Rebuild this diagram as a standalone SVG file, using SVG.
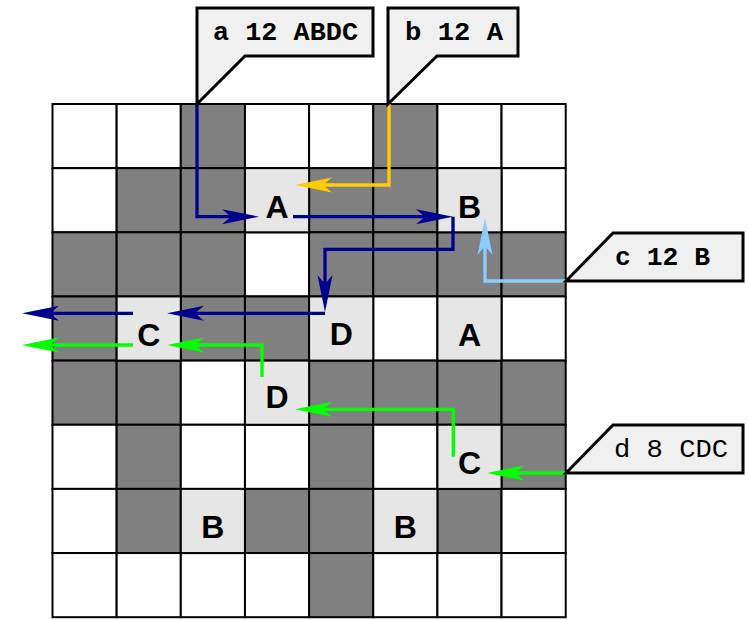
<svg xmlns="http://www.w3.org/2000/svg" width="749" height="620" viewBox="0 0 749 620">
<style>
.w{fill:#ffffff;stroke:#000;stroke-width:2}
.g{fill:#808080;stroke:#000;stroke-width:2}
.l{fill:#e6e6e6;stroke:#000;stroke-width:2}
.lt{font-family:"Liberation Sans",Arial,sans-serif;font-weight:bold;font-size:32px;text-anchor:middle;fill:#000}
.co{fill:#f0f0f0;stroke:#000;stroke-width:3;stroke-linejoin:miter}
.ct{font-family:"Liberation Mono","Courier New",monospace;font-weight:bold;font-size:26px;fill:#000}
.cn{font-weight:normal}
.c{fill:none;stroke-width:3.3;stroke-linejoin:miter}
.navy{stroke:#00008f}
.gold{stroke:#ffcc00}
.sky{stroke:#87cefa}
.lime{stroke:#00ff00}
</style>
<defs>
<marker id="mNavy" markerUnits="userSpaceOnUse" orient="auto" refX="0" refY="0" markerWidth="10" markerHeight="10" overflow="visible"><path d="M15,0 L-22,-7.5 L-13,0 L-22,7.5 Z" fill="#00008f"/></marker>
<marker id="mGold" markerUnits="userSpaceOnUse" orient="auto" refX="0" refY="0" markerWidth="10" markerHeight="10" overflow="visible"><path d="M15,0 L-22,-7.5 L-13,0 L-22,7.5 Z" fill="#ffcc00"/></marker>
<marker id="mSky" markerUnits="userSpaceOnUse" orient="auto" refX="0" refY="0" markerWidth="10" markerHeight="10" overflow="visible"><path d="M15,0 L-22,-7.5 L-13,0 L-22,7.5 Z" fill="#87cefa"/></marker>
<marker id="mLime" markerUnits="userSpaceOnUse" orient="auto" refX="0" refY="0" markerWidth="10" markerHeight="10" overflow="visible"><path d="M15,0 L-22,-7.5 L-13,0 L-22,7.5 Z" fill="#00ff00"/></marker>
</defs>
<rect x="0" y="0" width="749" height="620" fill="#ffffff"/>
<g id="grid">
<!-- row 0 -->
<rect class="w" x="52.5" y="104" width="64.15" height="64.15"/>
<rect class="w" x="116.65" y="104" width="64.15" height="64.15"/>
<rect class="g" x="180.8" y="104" width="64.15" height="64.15"/>
<rect class="w" x="244.95" y="104" width="64.15" height="64.15"/>
<rect class="w" x="309.1" y="104" width="64.15" height="64.15"/>
<rect class="g" x="373.25" y="104" width="64.15" height="64.15"/>
<rect class="w" x="437.4" y="104" width="64.15" height="64.15"/>
<rect class="w" x="501.55" y="104" width="64.15" height="64.15"/>
<!-- row 1 -->
<rect class="w" x="52.5" y="168.15" width="64.15" height="64.15"/>
<rect class="g" x="116.65" y="168.15" width="64.15" height="64.15"/>
<rect class="g" x="180.8" y="168.15" width="64.15" height="64.15"/>
<rect class="g" x="309.1" y="168.15" width="64.15" height="64.15"/>
<rect class="g" x="373.25" y="168.15" width="64.15" height="64.15"/>
<rect class="w" x="501.55" y="168.15" width="64.15" height="64.15"/>
<!-- row 2 -->
<rect class="g" x="52.5" y="232.3" width="64.15" height="64.15"/>
<rect class="g" x="116.65" y="232.3" width="64.15" height="64.15"/>
<rect class="g" x="180.8" y="232.3" width="64.15" height="64.15"/>
<rect class="w" x="244.95" y="232.3" width="64.15" height="64.15"/>
<rect class="g" x="309.1" y="232.3" width="64.15" height="64.15"/>
<rect class="g" x="373.25" y="232.3" width="64.15" height="64.15"/>
<rect class="g" x="437.4" y="232.3" width="64.15" height="64.15"/>
<rect class="g" x="501.55" y="232.3" width="64.15" height="64.15"/>
<!-- row 3 -->
<rect class="g" x="52.5" y="296.45" width="64.15" height="64.15"/>
<rect class="g" x="180.8" y="296.45" width="64.15" height="64.15"/>
<rect class="g" x="244.95" y="296.45" width="64.15" height="64.15"/>
<rect class="w" x="373.25" y="296.45" width="64.15" height="64.15"/>
<rect class="w" x="501.55" y="296.45" width="64.15" height="64.15"/>
<!-- row 4 -->
<rect class="g" x="52.5" y="360.6" width="64.15" height="64.15"/>
<rect class="g" x="116.65" y="360.6" width="64.15" height="64.15"/>
<rect class="w" x="180.8" y="360.6" width="64.15" height="64.15"/>
<rect class="g" x="309.1" y="360.6" width="64.15" height="64.15"/>
<rect class="g" x="373.25" y="360.6" width="64.15" height="64.15"/>
<rect class="g" x="437.4" y="360.6" width="64.15" height="64.15"/>
<rect class="g" x="501.55" y="360.6" width="64.15" height="64.15"/>
<!-- row 5 -->
<rect class="w" x="52.5" y="424.75" width="64.15" height="64.15"/>
<rect class="g" x="116.65" y="424.75" width="64.15" height="64.15"/>
<rect class="w" x="180.8" y="424.75" width="64.15" height="64.15"/>
<rect class="w" x="244.95" y="424.75" width="64.15" height="64.15"/>
<rect class="g" x="309.1" y="424.75" width="64.15" height="64.15"/>
<rect class="w" x="373.25" y="424.75" width="64.15" height="64.15"/>
<rect class="g" x="501.55" y="424.75" width="64.15" height="64.15"/>
<!-- row 6 -->
<rect class="w" x="52.5" y="488.9" width="64.15" height="64.15"/>
<rect class="g" x="116.65" y="488.9" width="64.15" height="64.15"/>
<rect class="g" x="244.95" y="488.9" width="64.15" height="64.15"/>
<rect class="g" x="309.1" y="488.9" width="64.15" height="64.15"/>
<rect class="g" x="437.4" y="488.9" width="64.15" height="64.15"/>
<rect class="w" x="501.55" y="488.9" width="64.15" height="64.15"/>
<!-- row 7 -->
<rect class="w" x="52.5" y="553.05" width="64.15" height="64.15"/>
<rect class="w" x="116.65" y="553.05" width="64.15" height="64.15"/>
<rect class="w" x="180.8" y="553.05" width="64.15" height="64.15"/>
<rect class="w" x="244.95" y="553.05" width="64.15" height="64.15"/>
<rect class="g" x="309.1" y="553.05" width="64.15" height="64.15"/>
<rect class="w" x="373.25" y="553.05" width="64.15" height="64.15"/>
<rect class="w" x="437.4" y="553.05" width="64.15" height="64.15"/>
<rect class="w" x="501.55" y="553.05" width="64.15" height="64.15"/>
</g>
<g id="cell-A1"><rect class="l" x="244.95" y="168.15" width="64.15" height="64.15"/><text class="lt" x="277" y="217.5">A</text></g>
<g id="cell-B1"><rect class="l" x="437.4" y="168.15" width="64.15" height="64.15"/><text class="lt" x="469.5" y="217.5">B</text></g>
<g id="cell-C1"><rect class="l" x="116.65" y="296.45" width="64.15" height="64.15"/><text class="lt" x="148.7" y="345.5">C</text></g>
<g id="cell-D1"><rect class="l" x="309.1" y="296.45" width="64.15" height="64.15"/><text class="lt" x="341.2" y="344.5">D</text></g>
<g id="cell-A2"><rect class="l" x="437.4" y="296.45" width="64.15" height="64.15"/><text class="lt" x="469.5" y="345.5">A</text></g>
<g id="cell-D2"><rect class="l" x="244.95" y="360.6" width="64.15" height="64.15"/><text class="lt" x="277" y="408">D</text></g>
<g id="cell-C2"><rect class="l" x="437.4" y="424.75" width="64.15" height="64.15"/><text class="lt" x="469.5" y="473.5">C</text></g>
<g id="cell-B2"><rect class="l" x="180.8" y="488.9" width="64.15" height="64.15"/><text class="lt" x="212.9" y="537.5">B</text></g>
<g id="cell-B3"><rect class="l" x="373.25" y="488.9" width="64.15" height="64.15"/><text class="lt" x="405.3" y="537.5">B</text></g>
<g id="connectors">
<path class="c navy" d="M197,104 V216.7 H244" marker-end="url(#mNavy)"/>
<path class="c navy" d="M293,216.7 H438" marker-end="url(#mNavy)"/>
<path class="c navy" d="M453,216.7 V249.3 H325 V297" marker-end="url(#mNavy)"/>
<path class="c navy" d="M325,313.3 H182" marker-end="url(#mNavy)"/>
<path class="c navy" d="M133,313.3 H37" marker-end="url(#mNavy)"/>
<path class="c gold" d="M389,104 V185 H310" marker-end="url(#mGold)"/>
<path class="c sky" d="M566,281 H485 V233" marker-end="url(#mSky)"/>
<path class="c lime" d="M566,473 H502" marker-end="url(#mLime)"/>
<path class="c lime" d="M453.3,456.7 V409.3 H310" marker-end="url(#mLime)"/>
<path class="c lime" d="M262,377 V345 H182" marker-end="url(#mLime)"/>
<path class="c lime" d="M133,345 H37" marker-end="url(#mLime)"/>
</g>
<g id="callout-a"><polygon class="co" points="197,8 373,8 373,56 245,56 197,104"/><text class="ct" x="213" y="40" textLength="145" lengthAdjust="spacingAndGlyphs">a 12 ABDC</text></g>
<g id="callout-b"><polygon class="co" points="388,8 518,8 518,56 437,56 388,104"/><text class="ct" x="405" y="40" textLength="98" lengthAdjust="spacingAndGlyphs">b 12 A</text></g>
<g id="callout-c"><polygon class="co" points="566,281 613,233 743,233 743,281"/><text class="ct" x="615" y="265" textLength="95" lengthAdjust="spacingAndGlyphs">c 12 B</text></g>
<g id="callout-d"><polygon class="co" points="566,473 613,425 743,425 743,473"/><text class="ct cn" x="614" y="457" textLength="114" lengthAdjust="spacingAndGlyphs">d 8 CDC</text></g>
</svg>
